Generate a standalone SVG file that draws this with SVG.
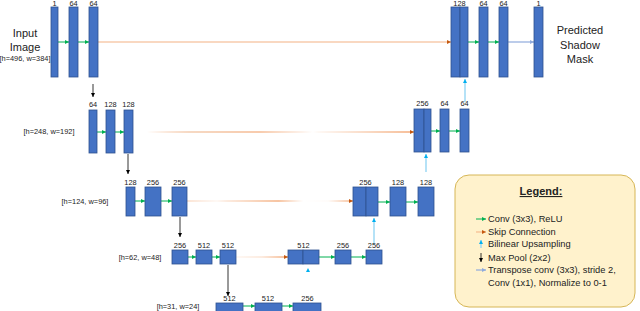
<svg xmlns="http://www.w3.org/2000/svg" width="640" height="311" viewBox="0 0 640 311">
<style>
.b{fill:#4472C4;stroke:#2F528F;stroke-width:0.8}
.l{font-family:"Liberation Sans",Arial,sans-serif;font-size:7.4px;fill:#222;text-anchor:middle}
.t{font-family:"Liberation Sans",Arial,sans-serif;font-size:11px;fill:#222;text-anchor:middle}
.d{font-family:"Liberation Sans",Arial,sans-serif;font-size:7.4px;fill:#222;text-anchor:middle}
.lg{font-family:"Liberation Sans",Arial,sans-serif;font-size:9.3px;fill:#222}
.g{stroke:#00B050;stroke-width:1;fill:none;marker-end:url(#mg)}
.k{stroke:#000;stroke-width:0.8;fill:none;marker-end:url(#mk)}
.c{stroke:#9DD9F5;stroke-width:1.5;fill:none;marker-end:url(#mc)}
.p{stroke:#8FAADC;stroke-width:1.2;fill:none;marker-end:url(#mp)}
</style>
<defs>
<marker id="mg" markerUnits="userSpaceOnUse" markerWidth="5" markerHeight="5" refX="4" refY="2.5" orient="auto"><path d="M0,0.5 L4,2.5 L0,4.5 Z" fill="#00B050"/></marker>
<marker id="mo" markerUnits="userSpaceOnUse" markerWidth="5" markerHeight="5" refX="4" refY="2.5" orient="auto"><path d="M0,0.5 L4,2.5 L0,4.5 Z" fill="#C55A11"/></marker>
<marker id="mk" markerUnits="userSpaceOnUse" markerWidth="5" markerHeight="5" refX="4" refY="2.5" orient="auto"><path d="M0,0.5 L4,2.5 L0,4.5 Z" fill="#000"/></marker>
<marker id="mc" markerUnits="userSpaceOnUse" markerWidth="5" markerHeight="5" refX="4" refY="2.5" orient="auto"><path d="M0,0.5 L4,2.5 L0,4.5 Z" fill="#00B0F0"/></marker>
<marker id="mp" markerUnits="userSpaceOnUse" markerWidth="5" markerHeight="5" refX="4" refY="2.5" orient="auto"><path d="M0,0.5 L4,2.5 L0,4.5 Z" fill="#8FAADC"/></marker>
<linearGradient id="s2" gradientUnits="userSpaceOnUse" x1="133" x2="414" y1="0" y2="0">
<stop offset="0.05" stop-color="#ED7D31" stop-opacity="0"/><stop offset="0.2" stop-color="#E9A06A" stop-opacity="0.8"/><stop offset="0.45" stop-color="#ED7D31" stop-opacity="0.8"/><stop offset="0.6" stop-color="#ED7D31" stop-opacity="0.2"/><stop offset="0.64" stop-color="#ED7D31" stop-opacity="0"/><stop offset="0.66" stop-color="#ED7D31" stop-opacity="0.1"/><stop offset="1" stop-color="#ED7D31" stop-opacity="1"/></linearGradient>
<linearGradient id="s3" gradientUnits="userSpaceOnUse" x1="187" x2="353" y1="0" y2="0">
<stop offset="0" stop-color="#ED7D31" stop-opacity="0.4"/><stop offset="0.18" stop-color="#ED7D31" stop-opacity="0.1"/><stop offset="0.24" stop-color="#ED7D31" stop-opacity="0.3"/><stop offset="0.55" stop-color="#ED7D31" stop-opacity="0.9"/><stop offset="0.7" stop-color="#ED7D31" stop-opacity="0"/><stop offset="0.85" stop-color="#ED7D31" stop-opacity="0.05"/><stop offset="1" stop-color="#ED7D31" stop-opacity="0.9"/></linearGradient>
<linearGradient id="s4" gradientUnits="userSpaceOnUse" x1="236" x2="288" y1="0" y2="0">
<stop offset="0" stop-color="#ED7D31" stop-opacity="0.1"/><stop offset="0.5" stop-color="#ED7D31" stop-opacity="0.3"/><stop offset="1" stop-color="#ED7D31" stop-opacity="1"/></linearGradient>
</defs>

<g id="connectors">
<line x1="98" y1="42" x2="451" y2="42" stroke="#F4B183" stroke-width="1.2" marker-end="url(#mo)"/>
<line x1="140" y1="132" x2="414" y2="132" stroke="url(#s2)" stroke-width="1.2" marker-end="url(#mo)"/>
<line x1="187" y1="201" x2="353" y2="201" stroke="url(#s3)" stroke-width="1.2" marker-end="url(#mo)"/>
<line x1="236" y1="257" x2="288" y2="257" stroke="url(#s4)" stroke-width="1.2" marker-end="url(#mo)"/>
<line class="g" x1="58" y1="42" x2="69" y2="42"/><line class="g" x1="78" y1="42" x2="89" y2="42"/>
<line class="g" x1="468" y1="42" x2="479" y2="42"/><line class="g" x1="488" y1="42" x2="499" y2="42"/>
<line class="p" x1="508" y1="42" x2="534" y2="42"/>
<line class="g" x1="97" y1="132" x2="106" y2="132"/><line class="g" x1="115" y1="132" x2="124" y2="132"/>
<line class="g" x1="431" y1="131" x2="440" y2="131"/><line class="g" x1="449" y1="131" x2="460" y2="131"/>
<line class="g" x1="135" y1="201" x2="145" y2="201"/><line class="g" x1="161" y1="201" x2="172" y2="201"/>
<line class="g" x1="378" y1="202" x2="390" y2="202"/><line class="g" x1="406" y1="202" x2="418" y2="202"/>
<line class="g" x1="188" y1="257" x2="196" y2="257"/><line class="g" x1="212" y1="257" x2="220" y2="257"/>
<line class="g" x1="319" y1="257" x2="335" y2="257"/><line class="g" x1="351" y1="257" x2="366" y2="257"/>
<line class="g" x1="243" y1="306" x2="255" y2="306"/><line class="g" x1="282" y1="306" x2="293" y2="306"/>
<line class="k" x1="93" y1="84" x2="93" y2="97"/>
<line class="k" x1="128" y1="154" x2="128" y2="174"/>
<line class="k" x1="180" y1="217" x2="180" y2="237"/>
<line class="k" x1="228" y1="265" x2="228" y2="296"/>
<line class="c" x1="465" y1="102" x2="465" y2="79"/>
<line class="c" x1="426" y1="172" x2="426" y2="154"/>
<line class="c" x1="374" y1="245" x2="374" y2="218"/>
<line class="c" x1="308" y1="273" x2="308" y2="268" stroke-opacity="0"/>
</g>

<g id="row1">
<rect class="b" x="51" y="7" width="7" height="70"/>
<rect class="b" x="69" y="7" width="9" height="70"/>
<rect class="b" x="89" y="7" width="9" height="70"/>
<text class="l" x="54.5" y="6">1</text><text class="l" x="73.5" y="6">64</text><text class="l" x="93.5" y="6">64</text>
<text class="t" x="25" y="37">Input</text><text class="t" x="25" y="51">Image</text>
<text class="d" x="25" y="61">[h=496, w=384]</text>
</g>
<g id="row1-up">
<rect class="b" x="451" y="7" width="9" height="70"/><rect class="b" x="460" y="7" width="8" height="70"/>
<rect class="b" x="479" y="7" width="9" height="70"/>
<rect class="b" x="499" y="7" width="9" height="70"/>
<rect class="b" x="534" y="7" width="9" height="70"/>
<text class="l" x="459.5" y="6">128</text><text class="l" x="483.5" y="6">64</text><text class="l" x="503.5" y="6">64</text><text class="l" x="538.5" y="6">1</text>
<text class="t" x="580" y="34">Predicted</text><text class="t" x="580" y="49">Shadow</text><text class="t" x="580" y="63">Mask</text>
</g>

<g id="row2">
<rect class="b" x="89" y="110" width="8" height="43"/>
<rect class="b" x="106" y="110" width="9" height="43"/>
<rect class="b" x="124" y="110" width="9" height="43"/>
<text class="l" x="93" y="107">64</text><text class="l" x="110.5" y="107">128</text><text class="l" x="128.5" y="107">128</text>
<text class="d" x="49" y="134">[h=248, w=192]</text>
</g>
<g id="row2-up">
<rect class="b" x="414" y="109" width="10" height="43"/><rect class="b" x="424" y="109" width="7" height="43"/>
<rect class="b" x="440" y="109" width="9" height="43"/>
<rect class="b" x="460" y="109" width="9" height="43"/>
<text class="l" x="422.5" y="106">256</text><text class="l" x="444.5" y="106">64</text><text class="l" x="464.5" y="106">64</text>
</g>

<g id="row3">
<rect class="b" x="126" y="187" width="9" height="29"/>
<rect class="b" x="145" y="187" width="16" height="29"/>
<rect class="b" x="172" y="187" width="15" height="29"/>
<text class="l" x="130.5" y="185">128</text><text class="l" x="153" y="185">256</text><text class="l" x="179.5" y="185">256</text>
<text class="d" x="85" y="204">[h=124, w=96]</text>
</g>
<g id="row3-up">
<rect class="b" x="353" y="187" width="13" height="29"/><rect class="b" x="366" y="187" width="12" height="29"/>
<rect class="b" x="390" y="187" width="16" height="29"/>
<rect class="b" x="418" y="187" width="16" height="29"/>
<text class="l" x="365.5" y="185">256</text><text class="l" x="398" y="185">128</text><text class="l" x="426" y="185">128</text>
</g>

<g id="row4">
<rect class="b" x="172" y="250" width="16" height="14"/>
<rect class="b" x="196" y="250" width="16" height="14"/>
<rect class="b" x="220" y="250" width="16" height="14"/>
<text class="l" x="180" y="248">256</text><text class="l" x="204" y="248">512</text><text class="l" x="228" y="248">512</text>
<text class="d" x="140" y="260">[h=62, w=48]</text>
</g>
<g id="row4-up">
<rect class="b" x="288" y="250" width="15" height="14"/><rect class="b" x="303" y="250" width="16" height="14"/>
<rect class="b" x="335" y="250" width="16" height="14"/>
<rect class="b" x="366" y="250" width="16" height="14"/>
<text class="l" x="303.5" y="248">512</text><text class="l" x="343" y="248">256</text><text class="l" x="374" y="248">256</text>
</g>

<g id="row5">
<rect class="b" x="216" y="303" width="27" height="12"/>
<rect class="b" x="255" y="303" width="27" height="12"/>
<rect class="b" x="293" y="303" width="28" height="12"/>
<text class="l" x="229.5" y="301">512</text><text class="l" x="268" y="301">512</text><text class="l" x="307.5" y="301">256</text>
<text class="d" x="178" y="309">[h=31, w=24]</text>
</g>

<g id="legend">
<rect x="455" y="175" width="180" height="132" rx="14" fill="#FFF2CC" stroke="#D6B656" stroke-width="1"/>
<text x="541" y="195" font-family="'Liberation Sans',Arial,sans-serif" font-size="11" font-weight="bold" text-anchor="middle" text-decoration="underline" fill="#222">Legend:</text>
<line class="g" x1="476" y1="219" x2="486" y2="219"/>
<line x1="476" y1="232" x2="486" y2="232" stroke="#F4B183" stroke-width="1" marker-end="url(#mo)"/>
<line class="c" x1="481" y1="248" x2="481" y2="240" stroke-width="1"/>
<line class="k" x1="481" y1="253" x2="481" y2="262"/>
<line class="p" x1="476" y1="270" x2="486" y2="270"/>
<text class="lg" x="488" y="222">Conv (3x3), ReLU</text>
<text class="lg" x="488" y="235">Skip Connection</text>
<text class="lg" x="488" y="247">Bilinear Upsampling</text>
<text class="lg" x="488" y="261">Max Pool (2x2)</text>
<text class="lg" x="488" y="273">Transpose conv (3x3), stride 2,</text>
<text class="lg" x="488" y="286">Conv (1x1), Normalize to 0-1</text>
</g>
</svg>
